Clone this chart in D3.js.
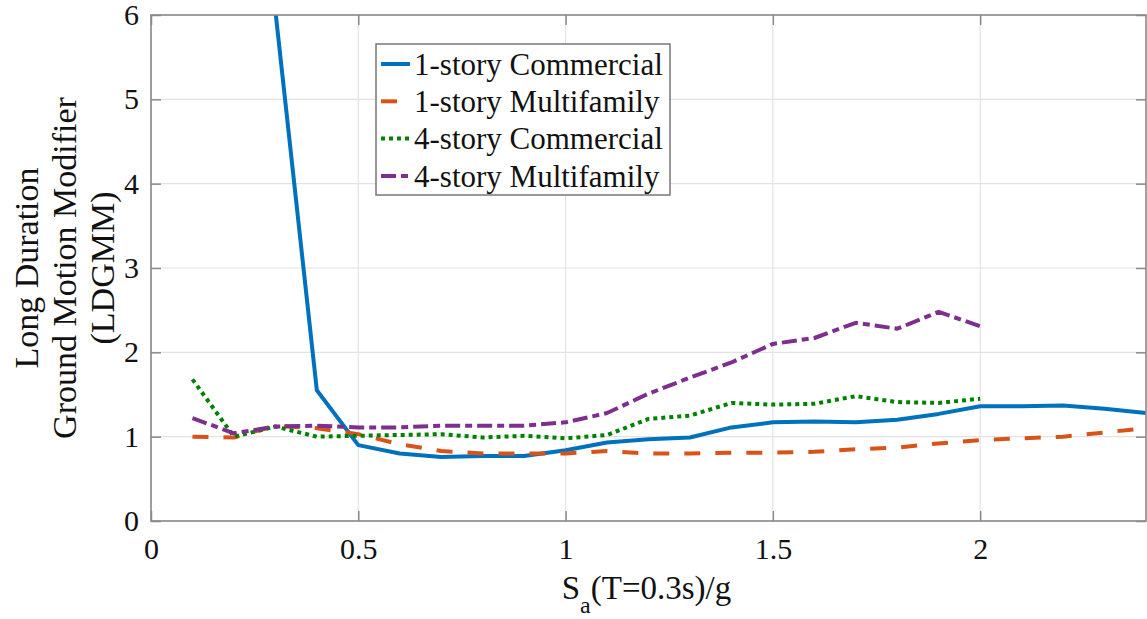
<!DOCTYPE html>
<html>
<head>
<meta charset="utf-8">
<script src="https://cdn.jsdelivr.net/npm/d3@7"></script>
<style>
  body { margin: 0; background: #fff; }
</style>
</head>
<body>
<div id="vis"></div>
<script>
const W = 1147;
const H = 619;
const margin = { top: 15, right: 1, bottom: 98, left: 151 };
const width = W - margin.left - margin.right;
const height = H - margin.top - margin.bottom;
const serif = "'Liberation Serif', 'Times New Roman', Times, serif";

// Data
const sa = [0.1, 0.2, 0.3, 0.4, 0.5, 0.6, 0.7, 0.8, 0.9, 1.0, 1.1, 1.2,
            1.3, 1.4, 1.5, 1.6, 1.7, 1.8, 1.9, 2.0, 2.1, 2.2, 2.3, 2.4];
const commercial1 = [null, null, 6.05, 1.55, 0.90, 0.80, 0.76, 0.77, 0.77, 0.84, 0.93, 0.97,
                     0.99, 1.11, 1.17, 1.18, 1.17, 1.20, 1.27, 1.36, 1.36, 1.37, 1.33, 1.28];
const multifamily1 = [1.00, 0.99, 1.13, 1.10, 1.03, 0.91, 0.83, 0.80, 0.80, 0.80, 0.83, 0.80,
                      0.80, 0.81, 0.81, 0.82, 0.85, 0.87, 0.92, 0.96, 0.98, 1.00, 1.05, 1.10];
const commercial4 = [1.68, 1.00, 1.12, 1.00, 1.01, 1.02, 1.03, 0.99, 1.01, 0.98, 1.02, 1.21,
                     1.25, 1.40, 1.38, 1.39, 1.48, 1.41, 1.40, 1.45, null, null, null, null];
const multifamily4 = [1.22, 1.04, 1.12, 1.13, 1.11, 1.11, 1.13, 1.13, 1.13, 1.17, 1.28, 1.51,
                      1.70, 1.88, 2.10, 2.17, 2.35, 2.28, 2.48, 2.31, null, null, null, null];

const seriesNames = ["1-story Commercial", "1-story Multifamily", "4-story Commercial", "4-story Multifamily"];
const seriesValues = [commercial1, multifamily1, commercial4, multifamily4];
const seriesColors = ["#0072BD", "#D95319", "#008000", "#7E2F8E"];
const seriesDash = [null, "16,15", "4,4", "15,5,7,5"];

const xTicks = [0, 0.5, 1, 1.5, 2];
const yTicks = [0, 1, 2, 3, 4, 5, 6];

const axisColor = "#8a8a8a";
const gridColor = "#e3e3e3";

const svgRoot = d3.select("#vis")
  .append("svg")
  .attr("width", W)
  .attr("height", H)
  .style("font-family", serif);

const svg = svgRoot.append("g")
  .attr("transform", `translate(${margin.left},${margin.top})`);

// Scales
const x = d3.scaleLinear().domain([0, 2.4]).range([0, width]);
const y = d3.scaleLinear().domain([0, 6]).range([height, 0]);

// Grid
svg.append("g")
  .selectAll("line")
  .data(xTicks)
  .join("line")
  .attr("x1", d => x(d)).attr("x2", d => x(d))
  .attr("y1", 0).attr("y2", height)
  .attr("stroke", gridColor).attr("stroke-width", 1.2);

svg.append("g")
  .selectAll("line")
  .data(yTicks)
  .join("line")
  .attr("x1", 0).attr("x2", width)
  .attr("y1", d => y(d)).attr("y2", d => y(d))
  .attr("stroke", gridColor).attr("stroke-width", 1.2);

// Lines, clipped to the axes box
svg.append("defs").append("clipPath")
  .attr("id", "plot-clip")
  .append("rect")
  .attr("width", width)
  .attr("height", height);

const line = d3.line()
  .defined(d => d[1] != null)
  .x(d => x(d[0]))
  .y(d => y(d[1]));

const linesLayer = svg.append("g").attr("clip-path", "url(#plot-clip)");

seriesValues.forEach((vals, i) => {
  linesLayer.append("path")
    .datum(sa.map((s, j) => [s, vals[j]]))
    .attr("fill", "none")
    .attr("stroke", seriesColors[i])
    .attr("stroke-width", 4)
    .attr("stroke-linejoin", "round")
    .attr("stroke-dasharray", seriesDash[i])
    .attr("d", line);
});

// Axes (MATLAB style box, ticks inside)
function styleAxis(g) {
  g.attr("font-family", serif);
  g.select(".domain").remove();
  g.selectAll(".tick line").attr("stroke", axisColor).attr("stroke-width", 1.5);
  g.selectAll("text")
    .style("font-family", serif)
    .style("font-size", "30px")
    .attr("fill", "#111");
}

svg.append("g")
  .attr("transform", `translate(0,${height})`)
  .call(d3.axisBottom(x).tickValues(xTicks).tickSize(-10).tickPadding(17).tickFormat(d3.format("")))
  .call(styleAxis);

svg.append("g")
  .call(d3.axisTop(x).tickValues(xTicks).tickSize(-10).tickFormat(""))
  .call(styleAxis);

svg.append("g")
  .call(d3.axisLeft(y).tickValues(yTicks).tickSize(-10).tickPadding(12).tickFormat(d3.format("d")))
  .call(styleAxis);

svg.append("g")
  .attr("transform", `translate(${width},0)`)
  .call(d3.axisRight(y).tickValues(yTicks).tickSize(-10).tickFormat(""))
  .call(styleAxis);

svg.append("rect")
  .attr("width", width)
  .attr("height", height)
  .attr("fill", "none")
  .attr("stroke", axisColor)
  .attr("stroke-width", 1.6);

// Axis labels
const xLabel = svg.append("text")
  .attr("x", width / 2 - 2)
  .attr("y", height + 78)
  .attr("text-anchor", "middle")
  .attr("fill", "#111")
  .style("font-family", serif)
  .style("font-size", "33px");
xLabel.append("tspan").text("S");
xLabel.append("tspan").attr("dy", 14).style("font-size", "24px").text("a");
xLabel.append("tspan").attr("dy", -14).text("(T=0.3s)/g");

const yLabelLines = ["Long Duration", "Ground Motion Modifier", "(LDGMM)"];
const yLabelX = [26, 64, 102];
yLabelLines.forEach((t, i) => {
  svgRoot.append("text")
    .attr("transform", `translate(${yLabelX[i]},${margin.top + height / 2}) rotate(-90)`)
    .attr("text-anchor", "middle")
    .attr("dy", "0.35em")
    .attr("fill", "#111")
    .style("font-family", serif)
    .style("font-size", "34px")
    .text(t);
});

// Legend
const legend = svgRoot.append("g").attr("transform", "translate(376,44)");
legend.append("rect")
  .attr("width", 294)
  .attr("height", 151)
  .attr("fill", "#fff")
  .attr("stroke", "#777")
  .attr("stroke-width", 1.5);

seriesNames.forEach((name, i) => {
  const row = legend.append("g").attr("transform", `translate(0,${20 + i * 37.3})`);
  row.append("line")
    .attr("x1", 5).attr("x2", 34)
    .attr("stroke", seriesColors[i])
    .attr("stroke-width", 4)
    .attr("stroke-dasharray", seriesDash[i]);
  row.append("text")
    .attr("x", 38)
    .attr("dy", "0.35em")
    .attr("fill", "#111")
    .style("font-family", serif)
    .style("font-size", "31px")
    .text(name);
});
</script>
</body>
</html>
